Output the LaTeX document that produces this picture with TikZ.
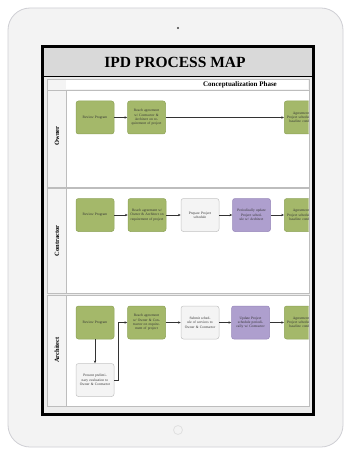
\documentclass[tikz,border=0pt]{standalone}
\usepackage{fontspec}
\setmainfont{Liberation Serif}
\usetikzlibrary{arrows.meta}
\definecolor{tabletbody}{HTML}{F3F3F3}
\definecolor{tabletedge}{HTML}{CFCFD4}
\definecolor{bandgray}{HTML}{D9D9D9}
\definecolor{panegray}{HTML}{ECECEC}
\definecolor{lanegray}{HTML}{BDBDBD}
\definecolor{labelgray}{HTML}{F4F4F4}
\definecolor{taskgreen}{HTML}{A4B86A}
\definecolor{taskgreenedge}{HTML}{8EA458}
\definecolor{taskpurple}{HTML}{AE9FCE}
\definecolor{taskpurpleedge}{HTML}{9787BA}
\definecolor{tasklight}{HTML}{F4F4F4}
\definecolor{tasklightedge}{HTML}{C4C4C4}
\definecolor{flowline}{HTML}{333333}
\tikzset{
  task/.style={rounded corners=2.5pt, line width=0.5pt, minimum width=38pt,
    minimum height=33pt, text width=35pt, align=center, inner sep=1pt,
    font=\fontsize{3.6}{4.3}\selectfont, text=black!80},
  greentask/.style={task, fill=taskgreen, draw=taskgreenedge},
  purpletask/.style={task, fill=taskpurple, draw=taskpurpleedge},
  lighttask/.style={task, fill=tasklight, draw=tasklightedge},
  flow/.style={draw=flowline, line width=0.5pt, -{Stealth[length=2.8pt,width=2.4pt]}},
  lanebox/.style={draw=lanegray, line width=0.6pt, fill=white},
  lanelabel/.style={rotate=90, font=\fontsize{6.5}{7}\selectfont\bfseries},
}
\begin{document}
\begin{tikzpicture}[x=1pt,y=-1pt]
\useasboundingbox (0,0) rectangle (344,449);
\fill[white] (0,0) rectangle (344,449);
% tablet body
\draw[fill=tabletbody, draw=tabletedge, line width=0.8pt, rounded corners=22pt]
  (8,8) rectangle (343,447);
\fill[black!75] (178,28) circle (1.2pt);
\draw[black!12, line width=0.8pt] (178,430) circle (4.5pt);
% screen
\fill[panegray] (42,47) rectangle (313,414);
\fill[bandgray] (42,47) rectangle (313,76);
\node[font=\fontsize{15.5}{17}\selectfont\bfseries] (title) at (175,62) {IPD PROCESS MAP};
\draw[black, line width=1.6pt] (42,76.5) -- (313,76.5);
% phase header
\draw[lanebox, fill=labelgray] (47,79) rectangle (309,90);
\fill[white] (66,80) rectangle (308,89.5);
\node[font=\fontsize{7}{8}\selectfont\bfseries] (phase) at (240,85) {Conceptualization Phase};
% swimlanes
\draw[lanebox] (47,90) rectangle (309,187);
\draw[lanebox] (47,188) rectangle (309,293);
\draw[lanebox] (47,295) rectangle (309,406);
\foreach \ya/\yb in {90/187,188/293,295/406}{
  \draw[lanebox, fill=labelgray] (47,\ya) rectangle (66,\yb);
}
\node[lanelabel] (owner) at (57,136) {Owner};
\node[lanelabel] (contractor) at (57,241) {Contractor};
\node[lanelabel] (architect) at (57,350) {Architect};
% tasks
\begin{scope}
\clip (47,90) rectangle (308.5,406);
% Owner
\node[greentask] (o1) at (95,117.5) {Review Program};
\node[greentask] (o2) at (146.5,117.5) {Reach agreement w/ Contractor \& Architect on requirement of project};
\node[greentask, anchor=west] (o5) at (284,117.5) {Agreement on Project schedule from baseline conditions};
% Contractor
\node[greentask] (c1) at (95,215) {Review Program};
\node[greentask] (c2) at (147,215) {Reach agreement w/ Owner \& Architect on requirement of project};
\node[lighttask] (c3) at (200,215) {Prepare Project schedule};
\node[purpletask] (c4) at (251.5,215) {Periodically update Project schedule w/ Architect};
\node[greentask, anchor=west] (c5) at (284,215) {Agreement on Project schedule from baseline conditions};
% Architect
\node[greentask] (a1) at (95,322.5) {Review Program};
\node[greentask] (a2) at (146.5,322.5) {Reach agreement w/ Owner \& Contractor on requirement of project};
\node[lighttask] (a3) at (200,322.5) {Submit schedule of services to Owner \& Contractor};
\node[purpletask] (a4) at (250.5,322.5) {Update Project schedule periodically w/ Contractor};
\node[greentask, anchor=west] (a5) at (284,322.5) {Agreement on Project schedule from baseline conditions};
\node[lighttask] (a6) at (95,380) {Present preliminary evaluation to Owner \& Contractor};
% flows
\draw[flow] (o1) -- (o2);
\draw[flow] (o2) -- (o5);
\draw[flow] (c1) -- (c2);
\draw[flow] (c2) -- (c3);
\draw[flow] (c3) -- (c4);
\draw[flow] (c4) -- (c5);
\draw[flow] (a1) -- (a6);
\draw[flow] (a6.east) -- ++(4,0) |- (a2.west);
\draw[flow] (a2) -- (a3);
\draw[flow] (a3) -- (a4);
\draw[flow] (a4) -- (a5);
\end{scope}
% screen frame
\draw[black, line width=3pt] (42,47) rectangle (313,414);
\end{tikzpicture}
\end{document}
